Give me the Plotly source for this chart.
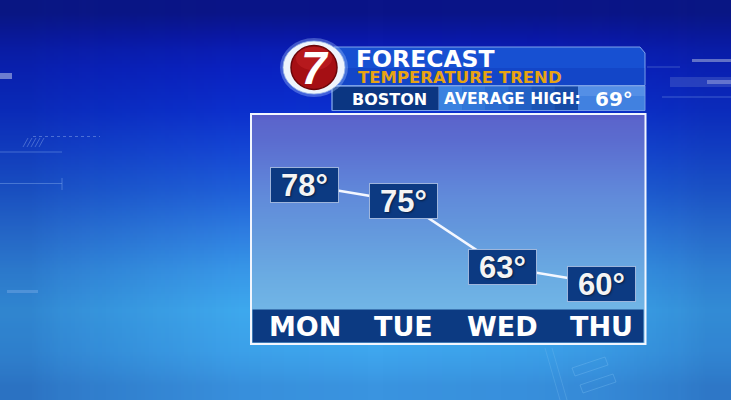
import plotly.graph_objects as go

# ---------------- data ----------------
days = ["MON", "TUE", "WED", "THU"]
highs = [78, 75, 63, 60]
city = "BOSTON"
avg_label = "AVERAGE HIGH:"
avg_high = 69
title = "FORECAST"
subtitle = "TEMPERATURE TREND"
logo_text = "7"

W, H = 731, 400
BOLD = "DejaVu Sans, Liberation Sans, Arial, sans-serif"
ARIAL = "Liberation Sans, Arial, sans-serif"
NAVY = "#0c3a82"

fig = go.Figure()

# ---------------- backgrounds (heatmaps in pixel space on x/y) ----------------
bg_y_edges = [0, 25, 50, 90, 130, 170, 210, 250, 290, 330, 370, 400]
bg_colors = ["#0a1488", "#0a18a8", "#0a22c4", "#0c30d0", "#1548d8", "#2062dc",
             "#2f80e4", "#3a9cec", "#40aef2", "#3ea6ee", "#3a94e0"]
n = len(bg_colors)
fig.add_trace(go.Heatmap(
    x=[0, 365, W], y=bg_y_edges, z=[[i, i] for i in range(n)],
    colorscale=[[i / (n - 1), c] for i, c in enumerate(bg_colors)],
    zmin=0, zmax=n - 1, zsmooth="best", showscale=False, hoverinfo="skip"))

vig_x_edges = [0, 60, 180, 300, 450, 600, 680, W]
vig_alpha = [0.28, 0.16, 0.04, 0.0, 0.04, 0.14, 0.24]
m = len(vig_alpha)
fig.add_trace(go.Heatmap(
    x=vig_x_edges, y=[0, 200, H], z=[list(range(m)), list(range(m))],
    colorscale=[[i / (m - 1), f"rgba(8,30,120,{a})"] for i, a in enumerate(vig_alpha)],
    zmin=0, zmax=m - 1, zsmooth="best", showscale=False, hoverinfo="skip"))

box_y_edges = [113, 120, 160, 200, 250, 300, 345]
box_colors = ["#5a5ec8", "#5b6ccf", "#5f82d8", "#6396dc", "#6aabe2", "#74bae8"]
k = len(box_colors)
fig.add_trace(go.Heatmap(
    x=[250, 448, 646], y=box_y_edges, z=[[i, i] for i in range(k)],
    colorscale=[[i / (k - 1), c] for i, c in enumerate(box_colors)],
    zmin=0, zmax=k - 1, zsmooth="best", showscale=False, hoverinfo="skip"))

# ---------------- temperature line ----------------
fig.add_trace(go.Scatter(
    x=days, y=highs, xaxis="x2", yaxis="y2", mode="lines",
    line=dict(color="#f4f7ff", width=2.6), hoverinfo="skip", showlegend=False))

shapes = []
def rect(x0, y0, x1, y1, fill, line=None, lw=0):
    shapes.append(dict(type="rect", xref="x", yref="y", x0=x0, y0=y0, x1=x1, y1=y1,
                       fillcolor=fill, line=dict(color=line or fill, width=lw), layer="above"))
def pline(path, color, w=1, dash="solid"):
    shapes.append(dict(type="path", xref="x", yref="y", path=path,
                       line=dict(color=color, width=w, dash=dash), layer="above"))

# decorative background marks
rect(0, 73, 12, 79, "rgba(190,200,235,0.55)")
pline("M 0,152 L 62,152", "rgba(130,170,235,0.45)")
pline("M 0,183.5 L 62,183.5 M 62,178 L 62,190", "rgba(130,170,235,0.45)")
pline("M 33,136.5 L 100,136.5", "rgba(150,180,240,0.45)", 1, "dot")
pline("M 23,147 L 28,138 M 27,147 L 32,138 M 31,147 L 36,138 M 35,147 L 40,138 M 39,147 L 44,138",
      "rgba(150,180,240,0.4)")
rect(7, 290, 38, 293, "rgba(120,170,230,0.45)")
rect(692, 59, W, 62, "rgba(170,180,220,0.55)")
rect(670, 77, W, 87, "rgba(110,130,210,0.3)")
rect(707, 80, W, 84, "rgba(150,160,220,0.55)")
pline("M 662,97 L 731,97", "rgba(130,160,230,0.45)")
pline("M 647,67 L 680,67", "rgba(120,150,220,0.45)")
pline("M 572,368 L 605,357 L 608,365 L 575,376 Z M 580,385 L 613,374 L 616,382 L 583,393 Z",
      "rgba(120,190,240,0.35)")
pline("M 545,348 L 560,400 M 552,348 L 567,400", "rgba(120,190,240,0.3)")

# header bar
shapes.append(dict(type="path", xref="x", yref="y", layer="above",
                   path="M 334,47 L 640,47 L 645,53 L 645,85.5 L 334,85.5 Z",
                   fillcolor="#1750d2", line=dict(color="rgba(140,175,240,0.9)", width=1)))
rect(335, 68, 644.5, 85, "rgba(8,40,170,0.25)")
# second row
rect(332, 86, 439, 110.5, "#0b3682", "rgba(120,160,230,0.9)", 1)
avg_strip = ["#3a82e0", "#3277d8", "#2a6cd0", "#2360c4", "#1c54b4", "#164aa6"]
sx = 439
sw = (578 - 439) / len(avg_strip)
for i, c in enumerate(avg_strip):
    rect(sx + i * sw, 86, sx + (i + 1) * sw + 0.5, 110.5, c)
rect(578, 86, 645, 110.5, "#4181e0")
rect(578, 86, 645, 96, "rgba(120,170,240,0.35)")
shapes.append(dict(type="rect", xref="x", yref="y", x0=332, y0=86, x1=645, y1=110.5,
                   line=dict(color="rgba(120,160,230,0.9)", width=1), layer="above"))

# logo
shapes.append(dict(type="circle", xref="x", yref="y", x0=280, x1=348, y0=38, y1=97,
                   fillcolor="rgba(170,200,255,0.35)", line=dict(width=0), layer="above"))
shapes.append(dict(type="circle", xref="x", yref="y", x0=283, x1=345, y0=41, y1=94,
                   fillcolor="#eef4fc", line=dict(color="rgba(150,180,230,0.8)", width=1), layer="above"))
shapes.append(dict(type="circle", xref="x", yref="y", x0=291, x1=337, y0=45.5, y1=89.5,
                   fillcolor="#a50f14", line=dict(color="#6a0508", width=1.5), layer="above"))
shapes.append(dict(type="circle", xref="x", yref="y", x0=296, x1=332, y0=47, y1=70,
                   fillcolor="rgba(215,45,45,0.35)", line=dict(width=0), layer="above"))

# chart frame + day band
rect(252.5, 309.5, 643.5, 342.5, NAVY)
shapes.append(dict(type="rect", xref="x", yref="y", x0=251, y0=114, x1=645.5, y1=344,
                   line=dict(color="#f2f6ff", width=2), layer="above"))

annotations = []
def txt(x, y, s, size, color="white", family=BOLD, xanchor="center", italic=False):
    annotations.append(dict(x=x, y=y, xref="x", yref="y", text=s, showarrow=False,
                            xanchor=xanchor, yanchor="middle",
                            font=dict(family=family, size=size, color=color, weight="bold",
                                      style="italic" if italic else "normal")))

txt(315, 68, logo_text, 46, family=ARIAL, italic=True)
txt(354, 59, title, 23.5, xanchor="left")
txt(356, 77, subtitle, 16.5, color="#e8a412", xanchor="left")
txt(389, 99, city, 16)
txt(442, 99, avg_label, 15.5, xanchor="left")
txt(614, 98.5, f"{avg_high}°", 20)

# temperature boxes
for d, v in zip(days, highs):
    annotations.append(dict(x=d, y=v, xref="x2", yref="y2", text=f"{v}°", showarrow=False,
                            font=dict(family=ARIAL, size=31, color="#f4f4f4", weight="bold",
                                      shadow="1px 1px 2px rgba(0,0,0,0.5)"),
                            bgcolor=NAVY, bordercolor="rgba(170,190,225,0.9)",
                            borderwidth=1, borderpad=1, width=65, height=32))
# day labels
for d in days:
    annotations.append(dict(x=d, y=326.5, xref="x2", yref="y", text=d, showarrow=False,
                            yanchor="middle",
                            font=dict(family=BOLD, size=27, color="white", weight="bold")))

fig.update_layout(
    width=W, height=H, autosize=False, margin=dict(l=0, r=0, t=0, b=0),
    paper_bgcolor="#1030c0", plot_bgcolor="rgba(0,0,0,0)", showlegend=False,
    xaxis=dict(range=[0, W], domain=[0, 1], visible=False, fixedrange=True),
    yaxis=dict(range=[H, 0], domain=[0, 1], visible=False, fixedrange=True),
    xaxis2=dict(type="category", domain=[250 / W, 645 / W], range=[-0.5515, 3.445],
                anchor="y2", visible=False, fixedrange=True),
    yaxis2=dict(domain=[(H - 309) / H, (H - 116) / H], range=[55.34, 90.61],
                anchor="x2", visible=False, fixedrange=True),
    shapes=shapes, annotations=annotations,
)

fig.write_html("out.html", config={"displayModeBar": False},
               post_script="document.body.style.margin='0';")
